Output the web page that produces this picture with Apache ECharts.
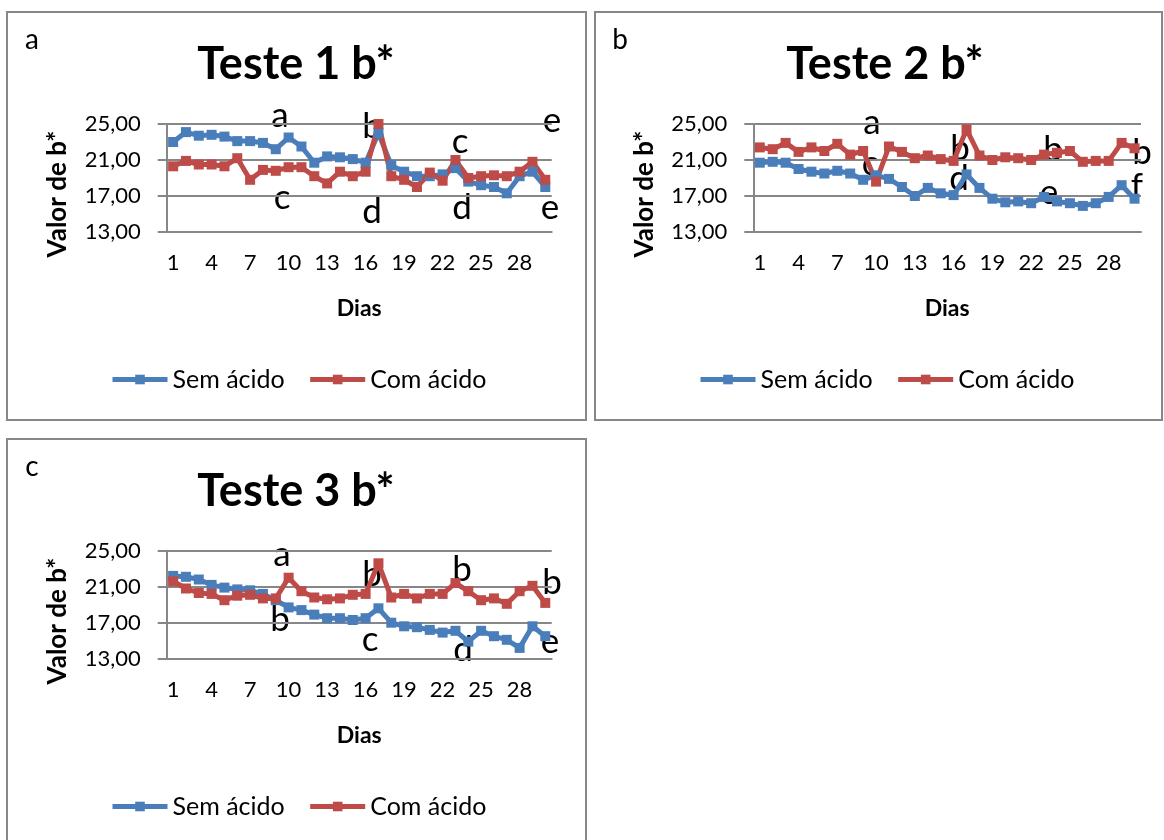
<!DOCTYPE html>
<html>
<head>
<meta charset="utf-8">
<title>Teste b*</title>
<script src="https://cdn.jsdelivr.net/npm/echarts@6/dist/echarts.min.js"></script>
<style>
	html, body { margin: 0; padding: 0; background: #fff; }
	body { width: 1164px; height: 840px; position: relative; overflow: hidden; }
	.painel { position: absolute; box-sizing: border-box; border: 2px solid #878787; background: #fff; }
	.grafico { width: 100%; height: 100%; }
</style>
</head>
<body>
<div class="painel" style="left:6px;top:11px;width:581px;height:410px"><div class="grafico" id="g1"></div></div>
<div class="painel" style="left:594px;top:11px;width:569px;height:410px"><div class="grafico" id="g2"></div></div>
<div class="painel" style="left:6px;top:438px;width:581px;height:410px"><div class="grafico" id="g3"></div></div>
<script>
const dias = ['1', '2', '3', '4', '5', '6', '7', '8', '9', '10', '11', '12', '13', '14', '15',
	'16', '17', '18', '19', '20', '21', '22', '23', '24', '25', '26', '27', '28', '29', '30']

const semAcido1 = [23.0, 24.1, 23.7, 23.8, 23.6, 23.1, 23.1, 22.9, 22.2, 23.5, 22.5, 20.7, 21.4, 21.3, 21.1,
	20.7, 24.0, 20.4, 19.7, 19.2, 19.2, 19.4, 20.1, 18.6, 18.2, 18.0, 17.3, 19.2, 19.7, 18.0]
const comAcido1 = [20.3, 20.9, 20.5, 20.5, 20.3, 21.2, 18.8, 19.9, 19.8, 20.2, 20.2, 19.2, 18.4, 19.7, 19.2,
	19.7, 25.0, 19.2, 18.8, 18.0, 19.6, 18.7, 21.0, 19.0, 19.2, 19.3, 19.2, 19.7, 20.8, 18.8]

const semAcido2 = [20.7, 20.8, 20.7, 20.0, 19.7, 19.5, 19.8, 19.5, 18.8, 19.3, 18.9, 18.0, 17.0, 17.9, 17.3,
	17.1, 19.4, 17.9, 16.7, 16.3, 16.4, 16.2, 16.9, 16.4, 16.2, 15.9, 16.2, 16.9, 18.2, 16.7]
const comAcido2 = [22.4, 22.2, 22.9, 21.9, 22.4, 22.0, 22.8, 21.6, 22.0, 18.6, 22.5, 21.9, 21.2, 21.5, 21.1,
	20.9, 24.4, 21.5, 21.0, 21.3, 21.2, 21.0, 21.6, 21.8, 22.0, 20.8, 20.9, 20.9, 22.9, 22.3]

const semAcido3 = [22.2, 22.1, 21.8, 21.2, 20.9, 20.7, 20.6, 20.2, 19.5, 18.7, 18.4, 17.9, 17.5, 17.5, 17.3,
	17.5, 18.6, 17.0, 16.6, 16.5, 16.2, 15.9, 16.1, 14.9, 16.1, 15.5, 15.1, 14.2, 16.6, 15.5]
const comAcido3 = [21.6, 20.8, 20.3, 20.2, 19.5, 20.0, 20.1, 19.7, 19.7, 22.0, 20.5, 19.8, 19.6, 19.7, 20.1,
	20.2, 23.6, 19.8, 20.2, 19.7, 20.2, 20.2, 21.4, 20.5, 19.5, 19.7, 19.1, 20.5, 21.1, 19.2]

const nomesSeries = ['Sem ácido', 'Com ácido']
const titulos = ['Teste 1 b*', 'Teste 2 b*', 'Teste 3 b*']
const paineis = ['a', 'b', 'c']
// letras de significancia de cada painel
const letras1 = ['a', 'c', 'b', 'd', 'c', 'd', 'e', 'e']
const letras2 = ['a', 'c', 'b', 'd', 'b', 'e', 'b', 'f']
const letras3 = ['a', 'b', 'b', 'c', 'b', 'd', 'b', 'e']

const FONTE = 'Lato, "Noto Sans", sans-serif'
const AZUL = '#4a7ebb'
const VERMELHO = '#be4b48'
const CINZA = '#878787'

const grafico = (function() {
	// y = linha de base aproximada do texto
	const texto = function(t, x, y, size, weight, fator) {
		return {
			type: 'text',
			x: x,
			y: y - size * (fator || 0.3),
			silent: true,
			style: {
				text: t,
				fill: '#000',
				font: (weight || 'normal') + ' ' + size + 'px ' + FONTE,
				align: 'center',
				verticalAlign: 'middle'
			}
		}
	}

	const desenha = function(id, cfg) {
		let graphic = []
		graphic.push(texto(cfg.painel, 24, 38, 28, 'normal', 0.39))
		graphic.push(texto(cfg.titulo, cfg.tituloX, 69, 45, 'bold', 0.39))
		graphic.push({
			type: 'text',
			x: cfg.nomeYX,
			y: 181,
			rotation: Math.PI / 2,
			silent: true,
			style: {
				text: 'Valor de b*',
				fill: '#000',
				font: 'bold 26px ' + FONTE,
				align: 'center',
				verticalAlign: 'middle'
			}
		})
		cfg.letras.forEach(function(l, i) {
			let p = cfg.posLetras[i]
			graphic.push(texto(l, p[0], p[1], 35))
		})

		let serie = function(nome, valores, cor) {
			return {
				name: nome,
				type: 'line',
				data: valores,
				symbol: 'rect',
				symbolSize: 10,
				showSymbol: true,
				showAllSymbol: true,
				lineStyle: { color: cor, width: 5 },
				itemStyle: { color: cor },
				emphasis: { disabled: true },
				animation: false
			}
		}

		let option = {
			animation: false,
			textStyle: { fontFamily: FONTE },
			grid: cfg.grid,
			legend: {
				data: nomesSeries,
				left: cfg.legendaX,
				top: 354,
				padding: 0,
				itemWidth: 55,
				itemHeight: 12,
				itemGap: 23,
				lineStyle: { width: 5 },
				textStyle: { fontSize: 25, color: '#000', fontFamily: FONTE }
			},
			xAxis: {
				type: 'category',
				data: dias,
				boundaryGap: true,
				name: 'Dias',
				nameLocation: 'middle',
				nameGap: 65,
				nameTextStyle: { fontSize: 23, fontWeight: 'bold', color: '#000', fontFamily: FONTE },
				axisLine: { show: true, lineStyle: { color: CINZA, width: 2 } },
				axisTick: { show: false },
				axisLabel: { interval: 2, fontSize: 22, color: '#000', margin: 20, fontFamily: FONTE },
				splitLine: { show: false }
			},
			yAxis: {
				type: 'value',
				min: 13,
				max: 25,
				interval: 4,
				axisLine: { show: true, lineStyle: { color: CINZA, width: 2 } },
				axisTick: { show: true, length: 9, lineStyle: { color: CINZA, width: 2 } },
				axisLabel: {
					fontSize: 22,
					color: '#000',
					margin: 26,
					fontFamily: FONTE,
					formatter: function(v) {
						return v.toFixed(2).replace('.', ',')
					}
				},
				splitLine: { show: true, lineStyle: { color: CINZA, width: 2 } }
			},
			graphic: graphic,
			series: [
				serie(nomesSeries[0], cfg.sem, AZUL),
				serie(nomesSeries[1], cfg.com, VERMELHO)
			]
		}
		let myChart = echarts.init(document.getElementById(id), null, { renderer: 'canvas' })
		myChart.setOption(option)
		return myChart
	}

	return { desenha: desenha }
})()

grafico.desenha('g1', {
	painel: paineis[0],
	titulo: titulos[0],
	tituloX: 288,
	nomeYX: 50,
	legendaX: 102,
	grid: { left: 158.7, top: 111, width: 385, height: 108 },
	sem: semAcido1,
	com: comAcido1,
	letras: letras1,
	posLetras: [[272, 113], [274, 195], [364, 124], [364, 209], [452, 139], [454, 205], [544, 118], [542, 205]]
})

grafico.desenha('g2', {
	painel: paineis[1],
	titulo: titulos[1],
	tituloX: 289,
	nomeYX: 49,
	legendaX: 102,
	grid: { left: 157.3, top: 111, width: 387.7, height: 108 },
	sem: semAcido2,
	com: comAcido2,
	letras: letras2,
	posLetras: [[276, 120], [274, 161], [364, 146], [363, 176], [457, 147], [453, 190], [546, 150], [541, 184]]
})

grafico.desenha('g3', {
	painel: paineis[2],
	titulo: titulos[2],
	tituloX: 288,
	nomeYX: 50,
	legendaX: 102,
	grid: { left: 158.7, top: 110.7, width: 385, height: 108 },
	sem: semAcido3,
	com: comAcido3,
	letras: letras3,
	posLetras: [[274, 125], [272, 190], [364, 145], [362, 210], [454, 140], [455, 220], [544, 153], [542, 212]]
})
</script>
</body>
</html>
